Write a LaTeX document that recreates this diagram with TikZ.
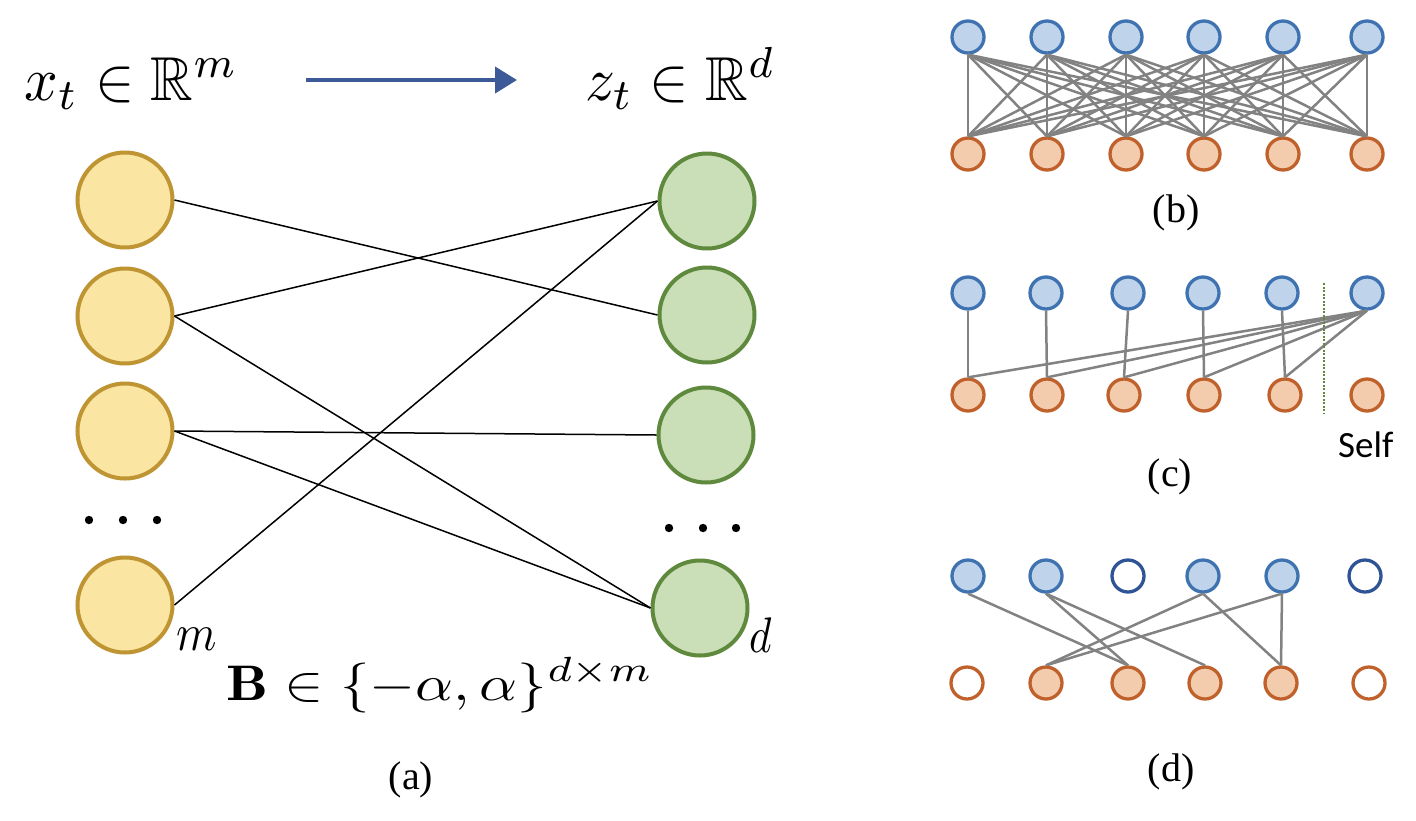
\documentclass[tikz,border=0pt]{standalone}
\usepackage{amsmath,amssymb}
\usepackage{fontspec}
\newfontfamily\capfont{Liberation Serif}
\newfontfamily\selffont{Carlito}
\usetikzlibrary{arrows.meta}
\definecolor{yfill}{HTML}{FAE5A2}
\definecolor{ydraw}{HTML}{BF9432}
\definecolor{gfill}{HTML}{CADFB8}
\definecolor{gdraw}{HTML}{5F8A3D}
\definecolor{bfill}{HTML}{BFD4EA}
\definecolor{bdraw}{HTML}{3E72B0}
\definecolor{bdark}{HTML}{2F5496}
\definecolor{ofill}{HTML}{F3CBAD}
\definecolor{odraw}{HTML}{C0612B}
\definecolor{edgegray}{HTML}{828282}
\definecolor{arrowblue}{HTML}{3D5A98}
\begin{document}
\begin{tikzpicture}[x=1pt,y=-1pt,
  big/.style={circle, minimum size=95pt, inner sep=0pt, line width=4pt},
  yel/.style={big, fill=yfill, draw=ydraw},
  grn/.style={big, fill=gfill, draw=gdraw},
  sm/.style={circle, minimum size=32pt, inner sep=0pt, line width=3.3pt},
  tn/.style={sm, fill=bfill, draw=bdraw},
  te/.style={sm, fill=white, draw=bdark},
  bn/.style={sm, fill=ofill, draw=odraw},
  be/.style={sm, fill=white, draw=odraw},
  link/.style={draw=edgegray, line width=2.5pt},
  wire/.style={draw=black, line width=1.5pt},
  mathlbl/.style={inner sep=0pt},
  captxt/.style={inner sep=0pt, font=\capfont\fontsize{40}{42}\selectfont},
  dotmark/.style={fill=black}
]
\fill[white] (0,0) rectangle (1416,820);
\useasboundingbox (0,0) rectangle (1416,820);

% ---------- panel (a) ----------
\node[yel] (y1) at (125,200) {};
\node[yel] (y2) at (125,316) {};
\node[yel] (y3) at (125,431) {};
\node[yel] (y4) at (125,605) {};
\node[grn] (g1) at (707,201) {};
\node[grn] (g2) at (707,315) {};
\node[grn] (g3) at (706,435) {};
\node[grn] (g4) at (700,608) {};

\draw[wire] (y1.east) -- (g2.west);
\draw[wire] (y2.east) -- (g1.west);
\draw[wire] (y2.east) -- (g4.west);
\draw[wire] (y3.east) -- (g3.west);
\draw[wire] (y3.east) -- (g4.west);
\draw[wire] (y4.east) -- (g1.west);

\foreach \x in {89,123,157} \fill[dotmark] (\x,520) circle[radius=4.2pt];
\foreach \x in {669,703,736} \fill[dotmark] (\x,528) circle[radius=4.2pt];

\coordinate (a0) at (306,80);
\coordinate (a1) at (517,80);
\draw[arrowblue, line width=4pt, -{Triangle[length=22pt,width=26pt]}] (a0) -- (a1);

\node[mathlbl, anchor=base west] (xt) at (24,100) {\scalebox{5.9}[6.2]{$x_t\in\mathbb{R}^m$}};
\node[mathlbl, anchor=base west] (zt) at (585,100) {\scalebox{5.9}[6.2]{$z_t\in\mathbb{R}^d$}};
\node[mathlbl, anchor=base] (bm) at (440,700) {\scalebox{5.9}[5.0]{$\mathbf{B}\in\{-\alpha,\alpha\}^{d\times m}$}};
\node[mathlbl, anchor=base west] (lm) at (176,650) {\scalebox{4.6}[5.2]{$m$}};
\node[mathlbl, anchor=base west] (ld) at (749,652) {\scalebox{4.3}[5]{$d$}};
\node[captxt] (ca) at (411,780) {(a)};

% ---------- panel (b) ----------
\foreach \i/\x in {1/968,2/1047,3/1126,4/1204,5/1283,6/1367}{
  \node[tn] (bt\i) at (\x,37) {};
  \node[bn] (bb\i) at (\x,154) {};
}
\foreach \i in {1,...,6}{
  \foreach \j in {1,...,6}{
    \draw[link] (bt\i.south) -- (bb\j.north);
  }
}
\node[captxt] (cb) at (1176,213) {(b)};

% ---------- panel (c) ----------
\foreach \i/\x in {1/968,2/1046,3/1128,4/1203,5/1282,6/1367}{
  \node[tn] (ct\i) at (\x,293) {};
}
\foreach \i/\x in {1/968,2/1047,3/1124,4/1204,5/1285,6/1367}{
  \node[bn] (cb\i) at (\x,395) {};
}
\foreach \i in {1,...,5}{
  \draw[link] (ct\i.south) -- (cb\i.north);
  \draw[link] (ct6.south) -- (cb\i.north);
}
\coordinate (s0) at (1324,283);
\coordinate (s1) at (1324,413);
\draw[gdraw, line width=1.5pt, dash pattern=on 2pt off 1.5pt] (s0) -- (s1);
\node[inner sep=0pt, anchor=base west, font=\selffont\fontsize{37}{40}\selectfont] (self) at (1338,457) {Self};
\node[captxt] (cc) at (1170,477) {(c)};

% ---------- panel (d) ----------
\node[tn] (dt1) at (968,576) {};
\node[tn] (dt2) at (1046,576) {};
\node[te] (dt3) at (1128,576) {};
\node[tn] (dt4) at (1203,576) {};
\node[tn] (dt5) at (1282,576) {};
\node[te] (dt6) at (1365,576) {};
\node[be] (db1) at (967,683) {};
\node[bn] (db2) at (1046,683) {};
\node[bn] (db3) at (1128,683) {};
\node[bn] (db4) at (1205,683) {};
\node[bn] (db5) at (1281,683) {};
\node[be] (db6) at (1369,683) {};
\draw[link] (dt1.south) -- (db3.north);
\draw[link] (dt2.south) -- (db3.north);
\draw[link] (dt2.south) -- (db4.north);
\draw[link] (dt4.south) -- (db2.north);
\draw[link] (dt4.south) -- (db5.north);
\draw[link] (dt5.south) -- (db2.north);
\draw[link] (dt5.south) -- (db5.north);
\node[captxt] (cd) at (1171,772) {(d)};
\end{tikzpicture}
\end{document}
